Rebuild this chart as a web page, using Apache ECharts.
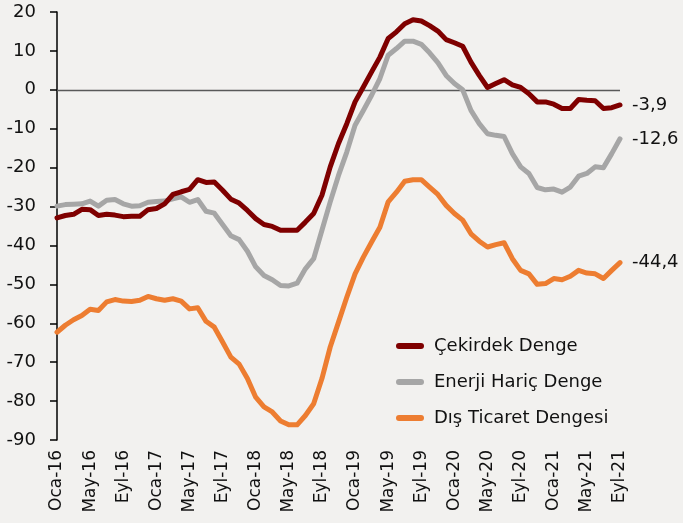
<!DOCTYPE html>
<html>
<head>
<meta charset="utf-8">
<script src="https://cdn.jsdelivr.net/npm/echarts@6/dist/echarts.min.js"></script>
<style>
html,body{margin:0;padding:0;background:#F2F1EF;}
#chart{width:683px;height:523px;}
</style>
</head>
<body>
<div id="chart"></div>
<script>
var monthNames = ["Oca","Şub","Mar","Nis","May","Haz","Tem","Ağu","Eyl","Eki","Kas","Ara"];
var years = ["16","17","18","19","20","21"];
var lastMonthCount = 9; // 2021 runs Oca..Eyl

var categories = [];
years.forEach(function (y, yi) {
  var n = (yi === years.length - 1) ? lastMonthCount : 12;
  for (var m = 0; m < n; m++) categories.push(monthNames[m] + "-" + y);
});

var cekirdekDenge = [
  -32.9,-32.3,-32.0,-30.7,-30.8,-32.3,-32.0,-32.2,-32.6,-32.5,-32.5,-30.8,
  -30.5,-29.3,-26.9,-26.2,-25.6,-23.1,-23.8,-23.7,-25.8,-28.1,-29.1,-31.0,
  -33.1,-34.6,-35.1,-36.1,-36.1,-36.1,-34.0,-31.8,-27.1,-19.8,-13.8,-8.7,
  -3.1,0.7,4.6,8.4,13.2,14.9,17.0,18.0,17.7,16.5,15.1,12.9,
  12.1,11.2,7.1,3.7,0.6,1.6,2.6,1.3,0.6,-1.0,-3.1,-3.1,
  -3.7,-4.8,-4.8,-2.5,-2.7,-2.8,-4.8,-4.6,-3.9
];
var enerjiHaricDenge = [
  -29.9,-29.5,-29.4,-29.3,-28.6,-29.9,-28.4,-28.2,-29.3,-29.9,-29.8,-28.9,
  -28.7,-28.6,-28.0,-27.5,-28.9,-28.2,-31.2,-31.7,-34.6,-37.5,-38.5,-41.5,
  -45.5,-47.7,-48.8,-50.3,-50.4,-49.7,-46.0,-43.4,-36.1,-28.8,-22.0,-16.0,
  -9.1,-5.3,-1.4,2.9,8.9,10.6,12.5,12.5,11.7,9.5,7.0,3.7,
  1.6,0.0,-5.3,-8.7,-11.3,-11.7,-12.0,-16.4,-19.8,-21.5,-25.1,-25.7,
  -25.5,-26.3,-25.0,-22.2,-21.5,-19.8,-20.0,-16.4,-12.6
];
var disTicaretDengesi = [
  -62.3,-60.5,-59.1,-58.0,-56.4,-56.7,-54.5,-53.9,-54.3,-54.4,-54.1,-53.1,
  -53.7,-54.1,-53.7,-54.3,-56.3,-56.0,-59.5,-61.0,-64.8,-68.7,-70.5,-74.2,
  -79.0,-81.5,-82.8,-85.1,-86.1,-86.1,-83.7,-80.7,-74.2,-66.1,-59.7,-53.3,
  -47.3,-43.0,-39.1,-35.3,-28.8,-26.3,-23.5,-23.1,-23.1,-25.0,-26.9,-29.7,
  -31.8,-33.5,-37.0,-38.9,-40.4,-39.8,-39.3,-43.4,-46.4,-47.3,-50.0,-49.8,
  -48.5,-48.8,-47.9,-46.4,-47.1,-47.3,-48.5,-46.4,-44.4
];

var seriesNames = ["Çekirdek Denge","Enerji Hariç Denge","Dış Ticaret Dengesi"];
var seriesColors = ["#7F0000","#A6A6A6","#ED7D31"];
var seriesData = [cekirdekDenge, enerjiHaricDenge, disTicaretDengesi];

var FONT = "DejaVu Sans";
var capsule = 'path://M3,0 L25,0 A3,3 0 0 1 25,6 L3,6 A3,3 0 0 1 3,0 Z';

var series = seriesData.map(function (d, i) {
  var s = {
    name: seriesNames[i],
    type: 'line',
    data: d,
    symbol: 'none',
    color: seriesColors[i],
    lineStyle: { width: 5, color: seriesColors[i], cap: 'round', join: 'round' },
    endLabel: {
      show: true,
      distance: 12,
      color: '#111',
      fontFamily: FONT,
      fontSize: 18,
      formatter: function (p) { return String(p.value).replace('.', ','); }
    },
    z: 3 - i
  };
  return s;
});
series[0].markLine = {
  silent: true,
  symbol: ['none','none'],
  label: { show: false },
  lineStyle: { color: '#595959', width: 1.3, type: 'solid' },
  data: [{ yAxis: 0 }],
  z: 1
};

var chart = echarts.init(document.getElementById('chart'), null, { renderer: 'canvas' });
chart.setOption({
  backgroundColor: '#F2F1EF',
  animation: false,
  grid: { left: 57, right: 63, top: 12, bottom: 83 },
  legend: {
    orient: 'vertical',
    left: 391,
    top: 330,
    itemWidth: 28,
    itemHeight: 6,
    itemGap: 14,
    icon: capsule,
    data: seriesNames.map(function (n, i) { return { name: n, icon: capsule, itemStyle: { color: seriesColors[i] } }; }),
    textStyle: { fontFamily: FONT, fontSize: 18, color: '#111', lineHeight: 22, padding: [0, 0, 0, 5] }
  },
  xAxis: {
    type: 'category',
    data: categories,
    boundaryGap: false,
    axisLine: { show: false },
    axisTick: { show: false },
    axisLabel: {
      interval: 3,
      rotate: 90,
      margin: 10,
      color: '#111',
      fontFamily: FONT,
      fontSize: 17
    },
    splitLine: { show: false }
  },
  yAxis: {
    type: 'value',
    min: -90,
    max: 20,
    interval: 10,
    axisLine: { show: true, lineStyle: { color: '#000', width: 1.5 } },
    axisTick: { show: true, length: 7, lineStyle: { color: '#000', width: 1.5 } },
    axisLabel: { color: '#111', fontFamily: FONT, fontSize: 18, margin: 21 },
    splitLine: { show: false }
  },
  series: series
});
</script>
</body>
</html>
